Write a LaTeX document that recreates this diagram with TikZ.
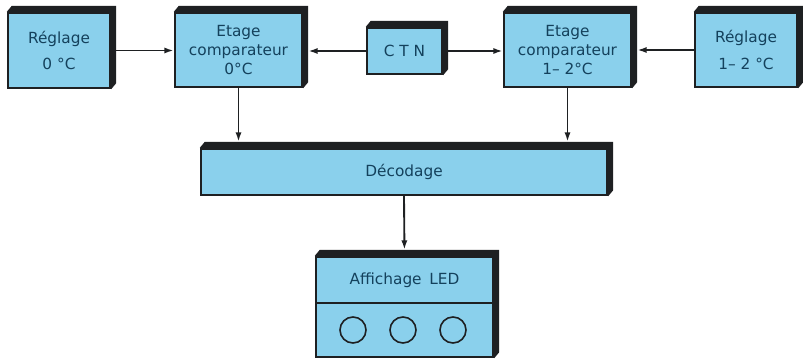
\documentclass[tikz,border=0pt]{standalone}
\usepackage{fontspec}
\setmainfont{DejaVu Sans}
\usepackage{xcolor}
\usetikzlibrary{arrows.meta}
\definecolor{boxblue}{RGB}{138,208,236}
\definecolor{inkline}{RGB}{30,32,34}
\definecolor{inktext}{RGB}{20,65,92}

\begin{document}
\begin{tikzpicture}[x=0.75pt,y=-0.75pt,>={Latex[length=7pt,width=4.5pt]},font=\fontsize{11.5}{14}\selectfont,
  blok/.style={draw=inkline,line width=1.8pt,fill=boxblue,text=inktext,align=center,inner sep=0pt},
  link/.style={->,draw=inkline,line width=1.4pt},
  lamp/.style={circle,draw=inkline,line width=1.2pt,minimum size=19.5pt,inner sep=0pt},
  depth/.style={fill=inkline}]
\useasboundingbox (0,0) rectangle (803,360);
\node[blok,minimum width=76.5pt,minimum height=56.25pt] (reg0) at (59,50.5) {Réglage\\[6pt]0 °C};
\node[blok,minimum width=95.25pt,minimum height=55.5pt] (comp0) at (238.5,50) {Etage\\comparateur\\0°C};
\node[blok,minimum width=56.25pt,minimum height=34.5pt] (ctn) at (404.5,51) {C T N};
\node[blok,minimum width=95.25pt,minimum height=55.5pt] (comp12) at (567.5,50) {Etage\\comparateur\\1– 2°C};
\node[blok,minimum width=76.5pt,minimum height=55.5pt] (reg12) at (746,50) {Réglage\\[6pt]1– 2 °C};
\node[blok,minimum width=304.5pt,minimum height=34.5pt] (deco) at (404,172) {Décodage};
\node[blok,minimum width=132.75pt,minimum height=34.5pt] (ledhead) at (404.5,280) {Affichage\enspace LED};
\node[blok,minimum width=132.75pt,minimum height=40.5pt] (ledbody) at (404.5,330) {};
% raised edges
\foreach \n in {reg0,comp0,ctn,comp12,reg12,deco}
  \fill[depth] (\n.north west) -- ++(5,-6) -- ([shift={(5,-6)}]\n.north east) -- ([shift={(5,-6)}]\n.south east) -- (\n.south east) -- (\n.north east) -- cycle;
\fill[depth] (ledhead.north west) -- ++(5,-6) -- ([shift={(5,-6)}]ledhead.north east) -- ([shift={(5,-6)}]ledbody.south east) -- (ledbody.south east) -- (ledhead.north east) -- cycle;
\foreach \i/\cx in {1/353,2/403,3/453}
  \node[lamp] (dot\i) at (\cx,330) {};
% connections
\draw[link,shorten <=3.75pt] (reg0.east) -- (comp0.west |- reg0.east);
\draw[link,shorten >=3.75pt] (ctn.west) -- (comp0.east |- ctn.west);
\draw[link] (ctn.east) -- (comp12.west |- ctn.east);
\draw[link,shorten >=3.75pt] (reg12.west) -- (comp12.east |- reg12.west);
\draw[link,shorten >=4.5pt] (comp0.south) -- (comp0.south |- deco.north);
\draw[link,shorten >=4.5pt] (comp12.south) -- (comp12.south |- deco.north);
\draw[link,shorten >=4.5pt] (deco.south) -- (ledhead.north);
\end{tikzpicture}
\end{document}
